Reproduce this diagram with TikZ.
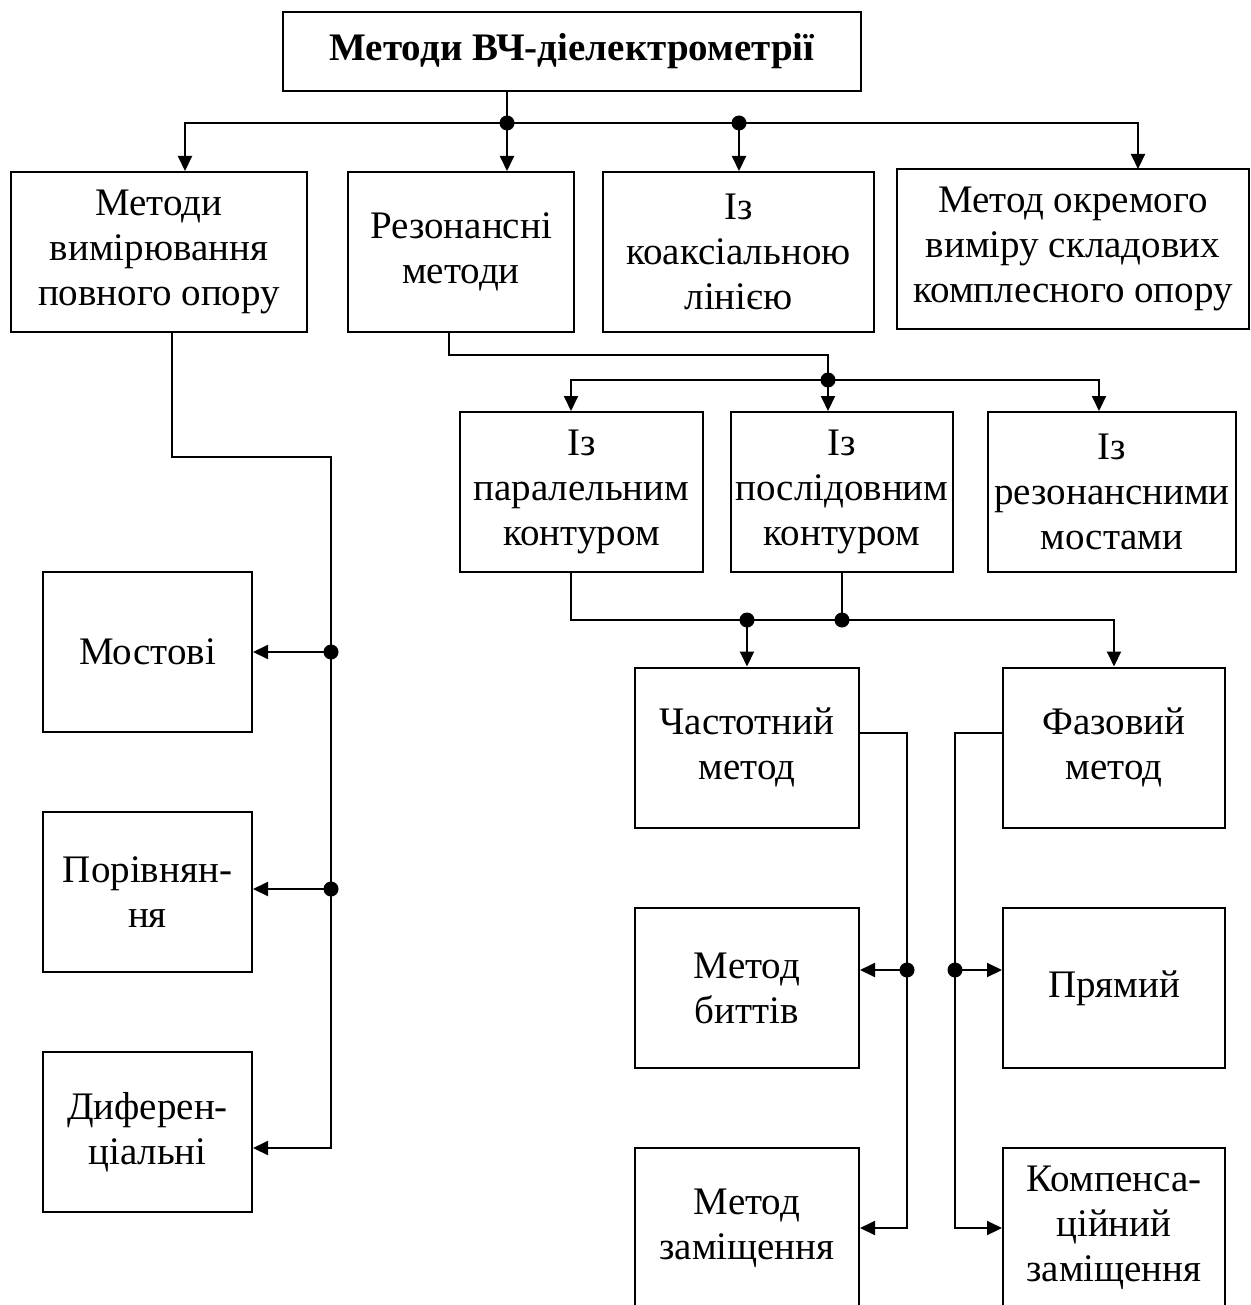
\documentclass[tikz,border=0pt]{standalone}
\usepackage{fontspec}
\setmainfont{Liberation Serif}
\usetikzlibrary{arrows.meta}

\begin{document}
\begin{tikzpicture}[x=1pt,y=-1pt,
  box/.style={draw,line width=2pt,align=center,inner sep=2pt,minimum height=160,
    font=\fontsize{39}{45}\selectfont},
  arr/.style={line width=2pt,-{Triangle[length=15pt,width=14pt]}},
  wire/.style={line width=2pt}]

\useasboundingbox (0,0) rectangle (1250,1305);

\node [box,minimum width=578,minimum height=79,font=\fontsize{39}{45}\selectfont\bfseries] (dm-top) at (572,51.5){Методи ВЧ-діелектрометрії};

% first level
\node [box,minimum width=296] (dm-full) at (159,252){Методи\\вимірювання\\повного опору};
\node [box,minimum width=226] (dm-res) at (461,252){Резонансні\\методи};
\node [box,minimum width=271] (dm-coax) at (738.5,252){Із\\коаксіальною\\лінією};
\node [box,minimum width=352] (dm-sep) at (1073,249){Метод окремого\\виміру складових\\комплесного опору};

\coordinate (j1) at (507,123);
\coordinate (j2) at (739,123);
\draw [wire] (j1 |- dm-top.south) -- (j1);
\draw [wire] (j1) -- (j2);
\draw [arr] (j1) -- (j1 |- dm-res.north);
\draw [arr] (j2) -- (j2 |- dm-coax.north);
\draw [arr] (j2) -| (1138,169);
\draw [arr] (j1) -| ([xshift=26pt]dm-full.north);



% full impedance methods
\node [box,minimum width=209] (dm-bridge) at (147.5,652){Мостові};
\node [box,minimum width=209] (dm-cmp) at (147.5,892){Порівнян-\\ня};
\node [box,minimum width=209] (dm-dif) at (147.5,1132){Диферен-\\ціальні};

\coordinate (kl) at (331,457);
\coordinate (j6) at (331,652);
\coordinate (j7) at (331,889);
\draw [arr] ([xshift=13pt]dm-full.south) |- (kl) |- ([yshift=-16pt]dm-dif.east);
\draw [arr] (j6) -- (j6 -| dm-bridge.east);
\draw [arr] (j7) -- (j7 -| dm-cmp.east);



% resonance methods
\node [box,minimum width=243] (dm-par) at (581.5,492){Із\\паралельним\\контуром};
\node [box,minimum width=222] (dm-ser) at (842,492){Із\\послідовним\\контуром};
\node [box,minimum width=248] (dm-rbr) at (1112,492){Із\\резонансними\\мостами};

\coordinate (j3) at (828,380);
\draw [wire] ([xshift=-12pt]dm-res.south) |- (828,355) -- (j3);
\draw [arr] (j3) -| ([xshift=-10.5pt]dm-par.north);
\draw [arr] (j3) -- (j3 |- dm-ser.north);
\draw [arr] (j3) -| ([xshift=-13pt]dm-rbr.north);



% contour methods
\node [box,minimum width=224] (dm-freq) at (747,747.5){Частотний\\метод};
\node [box,minimum width=222] (dm-phase) at (1114,747.5){Фазовий\\метод};

\coordinate (j4) at (747,620);
\coordinate (j5) at (842,620);
\draw [wire] (dm-ser.south) -- (j5);
\draw [arr] ([xshift=-10.5pt]dm-par.south) |- (j5) -| (dm-phase.north);
\draw [arr] (j4) -- (dm-freq.north);



% frequency and phase methods
\node [box,minimum width=224] (dm-beat) at (747,988){Метод\\биттів};
\node [box,minimum width=224] (dm-subst) at (747,1228){Метод\\заміщення};
\node [box,minimum width=222] (dm-direct) at (1114,988){Прямий};
\node [box,minimum width=222] (dm-comp) at (1114,1228){Компенса-\\ційний\\заміщення};

\coordinate (j8) at (907,970);
\coordinate (j9) at (955,970);
\draw [arr] ([yshift=15pt]dm-freq.east) -| (907,1228) -- (dm-subst.east);
\draw [arr] ([yshift=15pt]dm-phase.west) -| (955,1228) -- (dm-comp.west);
\draw [arr] (j8) -- (j8 -| dm-beat.east);
\draw [arr] (j9) -- (j9 -| dm-direct.west);


\foreach \j in {j1,j2,j3,j4,j5,j6,j7,j8,j9}
  \fill (\j) circle (7.5pt);

\end{tikzpicture}
\end{document}
